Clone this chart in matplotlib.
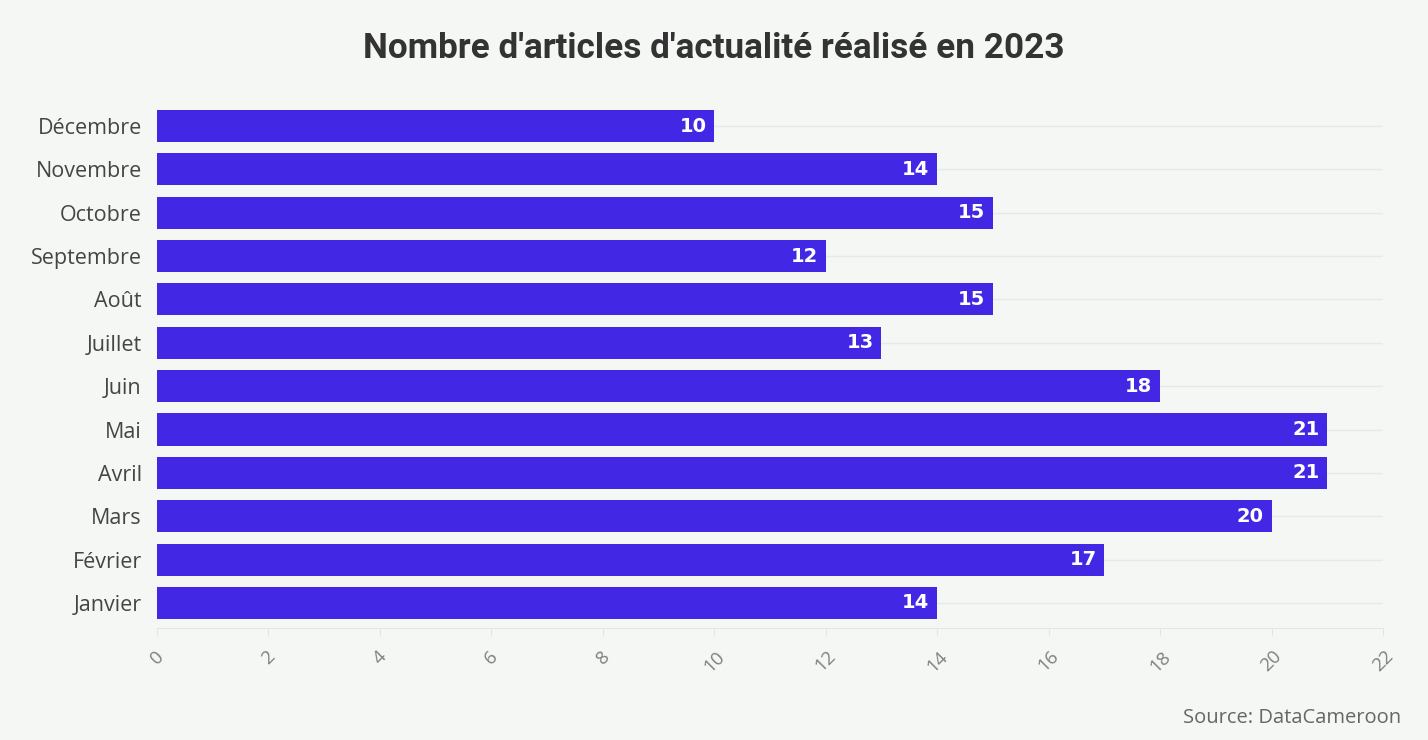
import matplotlib
matplotlib.use("Agg")
import matplotlib.pyplot as plt
from matplotlib import font_manager

months = ["Janvier", "Février", "Mars", "Avril", "Mai", "Juin",
          "Juillet", "Août", "Septembre", "Octobre", "Novembre", "Décembre"]
articles = [14, 17, 20, 21, 21, 18, 13, 15, 12, 15, 14, 10]
xticks = list(range(0, 23, 2))

title = "Nombre d'articles d'actualité réalisé en 2023"
source = "Source: DataCameroon"

names = {f.name for f in font_manager.fontManager.ttflist}
title_font = "Liberation Sans Narrow" if "Liberation Sans Narrow" in names else "Roboto"

bg = "#f4f7f3"
bar_color = "#4227e4"

fig = plt.figure(figsize=(14.28, 7.40), dpi=100, facecolor=bg)
ax = fig.add_axes([0.1099, 0.1514, 0.8586, 0.7026])
ax.set_facecolor(bg)

y = list(range(len(months)))
ax.barh(y, articles, height=0.74, color=bar_color, zorder=3)
for yi, v in zip(y, articles):
    ax.text(v - 0.14, yi, str(v), ha="right", va="center", color="white",
            fontsize=14, fontweight="bold", family="DejaVu Sans", zorder=4)

ax.set_xlim(0, 22)
ax.set_ylim(-0.577, 11.415)
ax.set_yticks(y)
ax.set_yticklabels(months, fontsize=15.5, family="Open Sans", color="#454545")
ax.set_xticks(xticks)
ax.set_xticklabels([str(t) for t in xticks], rotation=45, fontsize=13.5,
                   family="Open Sans", color="#808080", ha="center")
ax.tick_params(axis="y", length=0, pad=11)
ax.tick_params(axis="x", length=6, color="#e6e6e6", pad=8)
ax.grid(axis="y", color="#e8e8e8", linewidth=1, zorder=0)
for s in ["top", "right", "left"]:
    ax.spines[s].set_visible(False)
ax.spines["bottom"].set_color("#e6e6e6")

fig.text(0.5, 0.935, title, ha="center", va="center", fontsize=25.3,
         fontweight="bold", family=title_font, color="#333333")
fig.text(0.981, 0.03, source, ha="right", va="center", fontsize=14.5,
         family="Open Sans", color="#666666")

fig.savefig("out.png", dpi=100, facecolor=bg)
